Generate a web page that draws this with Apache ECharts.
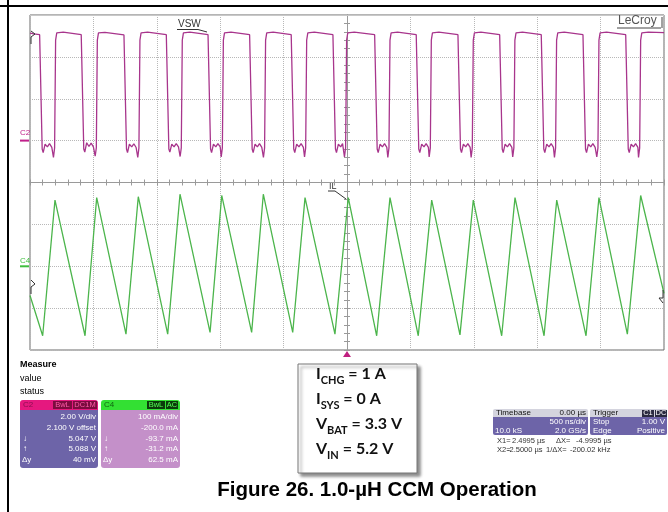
<!DOCTYPE html>
<html><head><meta charset="utf-8">
<script src="https://cdn.jsdelivr.net/npm/echarts@6/dist/echarts.min.js"></script>
<style>html,body{margin:0;padding:0;background:#fff}#c{width:668px;height:512px}</style>
</head><body><div id="c"></div>
<script>
// Time axis: 500 ns/div, 10 divisions, in microseconds
const timeMin = -2.5, timeMax = 2.5, timeStep = 0.5;
// C2 (VSW) axis in volts: 2 V/div, ground one division above centre
const vswMin = -10, vswMax = 6, vswStep = 2;
// C4 (IL) axis in mA: 100 mA/div, zero two divisions below centre
const ilMin = -200, ilMax = 600, ilStep = 100;

// VSW trace points [time µs, volts]
const vswPoints = [
  [-2.500,5.13],[-2.470,5.10],
  [-2.424,5.06],[-2.404,-0.40],[-2.396,-0.57],[-2.381,-0.17],[-2.363,-0.30],[-2.346,-0.14],[-2.328,-0.32],[-2.315,-0.80],[-2.306,-0.35],[-2.298,4.80],[-2.289,5.15],[-2.277,5.23],[-2.238,5.18],
  [-2.096,5.06],[-2.076,-0.40],[-2.068,-0.55],[-2.053,-0.10],[-2.035,-0.28],[-2.018,-0.12],[-2.000,-0.30],[-1.986,-0.74],[-1.977,-0.35],[-1.969,4.80],[-1.960,5.15],[-1.948,5.22],[-1.909,5.17],
  [-1.759,5.05],[-1.739,-0.40],[-1.731,-0.57],[-1.716,-0.17],[-1.698,-0.30],[-1.681,-0.15],[-1.663,-0.33],[-1.650,-0.80],[-1.641,-0.35],[-1.633,4.80],[-1.624,5.15],[-1.612,5.24],[-1.573,5.18],
  [-1.425,5.06],[-1.405,-0.40],[-1.397,-0.55],[-1.382,-0.17],[-1.364,-0.30],[-1.347,-0.14],[-1.329,-0.30],[-1.316,-0.76],[-1.307,-0.35],[-1.299,4.80],[-1.290,5.15],[-1.278,5.23],[-1.239,5.18],
  [-1.096,5.06],[-1.076,-0.40],[-1.068,-0.57],[-1.053,-0.17],[-1.035,-0.30],[-1.018,-0.14],[-1.000,-0.30],[-0.992,-0.78],[-0.983,-0.35],[-0.975,4.80],[-0.966,5.15],[-0.954,5.23],[-0.915,5.18],
  [-0.768,5.06],[-0.748,-0.40],[-0.740,-0.57],[-0.725,-0.17],[-0.707,-0.30],[-0.690,-0.14],[-0.672,-0.32],[-0.659,-0.80],[-0.650,-0.35],[-0.642,4.80],[-0.633,5.15],[-0.621,5.23],[-0.582,5.18],
  [-0.440,5.06],[-0.420,-0.40],[-0.412,-0.57],[-0.397,-0.17],[-0.379,-0.30],[-0.362,-0.14],[-0.344,-0.32],[-0.335,-0.78],[-0.326,-0.35],[-0.318,4.80],[-0.309,5.15],[-0.297,5.23],[-0.258,5.18],
  [-0.111,5.06],[-0.091,-0.40],[-0.083,-0.57],[-0.068,-0.17],[-0.050,-0.30],[-0.035,-0.14],[-0.020,-0.78],[-0.011,-0.35],[-0.003,4.80],[0.006,5.15],[0.018,5.23],[0.057,5.18],
  [0.218,5.06],[0.238,-0.40],[0.246,-0.57],[0.261,-0.17],[0.279,-0.30],[0.296,-0.14],[0.314,-0.32],[0.322,-0.80],[0.331,-0.35],[0.339,4.80],[0.348,5.15],[0.360,5.23],[0.399,5.18],
  [0.546,5.06],[0.566,-0.40],[0.574,-0.57],[0.589,-0.17],[0.607,-0.30],[0.624,-0.14],[0.642,-0.32],[0.648,-0.78],[0.657,-0.35],[0.665,4.80],[0.674,5.15],[0.686,5.23],[0.725,5.18],
  [0.875,5.06],[0.895,-0.40],[0.903,-0.57],[0.918,-0.17],[0.936,-0.30],[0.953,-0.14],[0.971,-0.32],[0.979,-0.80],[0.988,-0.35],[0.996,4.80],[1.005,5.15],[1.017,5.23],[1.056,5.18],
  [1.204,5.06],[1.224,-0.40],[1.232,-0.57],[1.247,-0.17],[1.265,-0.30],[1.282,-0.14],[1.300,-0.32],[1.307,-0.78],[1.316,-0.35],[1.324,4.80],[1.333,5.15],[1.345,5.23],[1.384,5.18],
  [1.532,5.06],[1.552,-0.40],[1.560,-0.57],[1.575,-0.17],[1.593,-0.30],[1.610,-0.14],[1.628,-0.32],[1.636,-0.80],[1.645,-0.35],[1.653,4.80],[1.662,5.15],[1.674,5.23],[1.713,5.18],
  [1.861,5.06],[1.881,-0.40],[1.889,-0.57],[1.904,-0.17],[1.922,-0.30],[1.939,-0.14],[1.957,-0.32],[1.970,-0.78],[1.979,-0.35],[1.987,4.80],[1.996,5.15],[2.008,5.23],[2.047,5.18],
  [2.198,5.06],[2.218,-0.40],[2.226,-0.57],[2.241,-0.17],[2.259,-0.30],[2.276,-0.14],[2.294,-0.32],[2.299,-0.80],[2.308,-0.35],[2.316,4.80],[2.325,5.15],[2.337,5.23],[2.376,5.18],
  [2.500,5.16]
];

// IL trace vertices [time µs, mA]
const ilPoints = [
  [-2.500,-70],[-2.400,-166],[-2.303,158],[-2.066,-166],[-1.974,164],[-1.743,-162],[-1.646,166],
  [-1.414,-162],[-1.317,172],[-1.080,-158],[-0.988,169],[-0.752,-158],[-0.660,172],[-0.428,-158],
  [-0.331,164],[-0.095,-162],[0.010,164],[0.234,-166],[0.339,164],[0.562,-166],[0.668,158],
  [0.891,-164],[0.996,158],[1.220,-166],[1.325,164],[1.554,-166],[1.654,158],[1.885,-166],
  [1.987,164],[2.211,-162],[2.316,169],[2.500,-65]
];

const c2Readout = ['2.00 V/div','2.100 V offset','5.047 V','5.088 V','40 mV'];
const c4Readout = ['100 mA/div','-200.0 mA','-93.7 mA','-31.2 mA','62.5 mA'];
const conditions = [['I','CHG',' = 1 A'],['I','SYS',' = 0 A'],['V','BAT',' = 3.3 V'],['V','IN',' = 5.2 V']];
const caption = 'Figure 26. 1.0-µH CCM Operation';

const F = 'Liberation Sans, Arial, sans-serif';
const els = [];
function txt(x,y,s,o){o=o||{};els.push({type:'text',x:x,y:y,z:o.z||10,style:{text:s,fill:o.fill||'#000',font:(o.w||'normal')+' '+(o.size||8)+'px '+(o.fam||F),textAlign:o.align||'left',textVerticalAlign:'middle'}});}
function rect(x,y,w,h,fill,o){o=o||{};els.push({type:'rect',z:o.z||5,shape:{x:x,y:y,width:w,height:h,r:o.r||0},style:Object.assign({fill:fill},o.style||{})});}
function line(x1,y1,x2,y2,c,w){els.push({type:'line',z:6,shape:{x1:x1,y1:y1,x2:x2,y2:y2},style:{stroke:c,lineWidth:w||1}});}
function poly(pts,c,fill){els.push({type:fill?'polygon':'polyline',z:7,shape:{points:pts},style:fill?{fill:c}:{stroke:c,lineWidth:1,fill:null}});}

// figure frame
line(0,6,668,6,'#000',2);
line(8,0,8,512,'#000',2);
line(30,15.5,664,15.5,'#c8c8c8',1);

// scope labels
txt(178,24,'VSW',{size:10,fill:'#333'});
line(177,29.5,198,29.5,'#333',1);
line(198,29.5,207,32,'#333',1);
txt(618,21,'LeCroy',{size:12,fill:'#555'});
line(617,28,661,28,'#444',1);
line(662,17,662,28,'#444',1);
txt(20,133,'C2',{size:8,fill:'#c0208a'});
line(20,140.6,29,140.6,'#c0208a',2);
txt(20,261,'C4',{size:8,fill:'#3fbf3f'});
line(20,266.3,29,266.3,'#3fbf3f',2);
txt(329,187,'IL',{size:9,fill:'#333'});
line(328,191,335,191,'#333',1);
line(335,191,346,199,'#333',1);
poly([[343,357],[351,357],[347,351]],'#c02080',true);
poly([[31,31],[35,34],[31,37],[31,44]],'#333');
poly([[31,280],[35,284],[31,287],[31,294]],'#333');
poly([[663,290],[663,298],[659,298],[663,303]],'#333');

// measure area
txt(20,365,'Measure',{size:9,w:'bold'});
txt(20,379,'value',{size:9});
txt(20,392,'status',{size:9});

// C2 panel
rect(20,410,78,58,'#6d64a8',{r:[0,0,3,3]});
rect(20,400,78,10,'#e5187f',{r:[3,3,0,0]});
txt(23,405,'C2',{fill:'#8a1050'});
rect(53,401,19,8,'#7c0c3f'); txt(62.5,405,'BwL',{fill:'#ff5aa8',align:'center',size:7.5});
rect(73,401,24,8,'#7c0c3f'); txt(85,405,'DC1M',{fill:'#ff5aa8',align:'center',size:7.5});
const rowY=[417,428,439,449,460];
c2Readout.forEach(function(s,i){txt(96,rowY[i],s,{fill:'#fff',align:'right'});});
txt(23,439,'↓',{fill:'#fff'}); txt(23,449,'↑',{fill:'#fff'}); txt(22,460,'Δy',{fill:'#fff'});

// C4 panel
rect(101,410,79,58,'#c490c9',{r:[0,0,3,3]});
rect(101,400,79,10,'#33e033',{r:[3,3,0,0]});
txt(104,405,'C4',{fill:'#116611'});
rect(147,401,18,8,'#0b3b0b'); txt(156,405,'BwL',{fill:'#55ff55',align:'center',size:7.5});
rect(166,401,12,8,'#0b3b0b'); txt(172,405,'AC',{fill:'#55ff55',align:'center',size:7.5});
c4Readout.forEach(function(s,i){txt(178,rowY[i],s,{fill:'#fff',align:'right'});});
txt(104,439,'↓',{fill:'#fff'}); txt(104,449,'↑',{fill:'#fff'}); txt(103,460,'Δy',{fill:'#fff'});

// condition box
rect(298,364,119,109,'#fff',{z:4,style:{stroke:'#777',lineWidth:1,shadowBlur:3,shadowOffsetX:3,shadowOffsetY:3,shadowColor:'rgba(0,0,0,0.45)'}});
const condY=[376,401,426,451];
conditions.forEach(function(c,i){
  els.push({type:'text',x:316,y:condY[i],z:10,style:{
    text:'{m|'+c[0]+'}{s|'+c[1]+'}{m|'+c[2]+'}',textVerticalAlign:'middle',
    rich:{m:{fontSize:16,fontWeight:'bold',fontFamily:'Lato, '+F,fill:'#111',verticalAlign:'bottom',padding:[0,0,4,0]},
          s:{fontSize:11,fontWeight:'bold',fontFamily:'Lato, '+F,fill:'#111',verticalAlign:'bottom'}}}});
});

// timebase / trigger
rect(493,417,95,18,'#6d64a8',{r:[0,0,2,2]});
rect(493,409,95,8,'#d4d4de',{r:[2,2,0,0]});
txt(496,413,'Timebase',{fill:'#111'}); txt(586,413,'0.00 µs',{fill:'#111',align:'right'});
txt(586,422,'500 ns/div',{fill:'#fff',align:'right'});
txt(495,431,'10.0 kS',{fill:'#fff'}); txt(586,431,'2.0 GS/s',{fill:'#fff',align:'right'});
rect(590,417,77,18,'#6d64a8',{r:[0,0,2,2]});
rect(590,409,77,8,'#d4d4de',{r:[2,2,0,0]});
txt(593,413,'Trigger',{fill:'#111'});
rect(642,410,12,7,'#2a2a40'); txt(648,413,'C1',{fill:'#fff',align:'center',size:7.5});
rect(655,410,12,7,'#2a2a40'); txt(661,413,'DC',{fill:'#fff',align:'center',size:7.5});
txt(593,422,'Stop',{fill:'#fff'}); txt(665,422,'1.00 V',{fill:'#fff',align:'right'});
txt(593,431,'Edge',{fill:'#fff'}); txt(665,431,'Positive',{fill:'#fff',align:'right'});
txt(497,441,'X1=',{fill:'#333',size:7.5}); txt(512,441,'2.4995 µs',{fill:'#333',size:7.5});
txt(556,441,'ΔX=',{fill:'#333',size:7.5}); txt(576,441,'-4.9995 µs',{fill:'#333',size:7.5});
txt(497,450,'X2=',{fill:'#333',size:7.5}); txt(507,450,'-2.5000 µs',{fill:'#333',size:7.5});
txt(546,450,'1/ΔX=',{fill:'#333',size:7.5}); txt(570,450,'-200.02 kHz',{fill:'#333',size:7.5});

// caption
txt(377,490,caption,{size:20.5,w:'bold',align:'center'});

const axisGray = '#9a9a9a';
const centerTick = {show:true,length:3,lineStyle:{color:axisGray}};
const chart = echarts.init(document.getElementById('c'),null,{renderer:'canvas'});
chart.setOption({
  animation:false,
  backgroundColor:'#fff',
  grid:{left:30,top:15,width:634,height:335,show:true,borderColor:'#6a6a6a',borderWidth:1},
  xAxis:[
    {type:'value',min:timeMin,max:timeMax,interval:timeStep,position:'bottom',
     axisLabel:{show:false},
     splitLine:{show:true,lineStyle:{type:'dotted',color:'#b8b8b8'}},
     axisLine:{show:true,onZero:true,onZeroAxisIndex:2,lineStyle:{color:axisGray}},
     axisTick:centerTick,minorTick:{show:true,splitNumber:5,length:3,lineStyle:{color:axisGray}}},
    {type:'value',min:timeMin,max:timeMax,interval:timeStep,position:'bottom',
     axisLabel:{show:false},splitLine:{show:false},
     axisLine:{show:true,onZero:true,onZeroAxisIndex:2,lineStyle:{color:axisGray}},
     axisTick:{show:true,inside:true,length:3,lineStyle:{color:axisGray}},
     minorTick:{show:true,splitNumber:5,length:3,lineStyle:{color:axisGray}}}
  ],
  yAxis:[
    {type:'value',min:vswMin,max:vswMax,interval:vswStep,show:false},
    {type:'value',min:ilMin,max:ilMax,interval:ilStep,show:false},
    {type:'value',min:-4,max:4,interval:1,position:'left',
     axisLabel:{show:false},
     splitLine:{show:true,lineStyle:{type:'dotted',color:'#b8b8b8'}},
     axisLine:{show:true,onZero:true,onZeroAxisIndex:0,lineStyle:{color:axisGray}},
     axisTick:centerTick,minorTick:{show:true,splitNumber:5,length:3,lineStyle:{color:axisGray}}},
    {type:'value',min:-4,max:4,interval:1,position:'left',
     axisLabel:{show:false},splitLine:{show:false},
     axisLine:{show:true,onZero:true,onZeroAxisIndex:0,lineStyle:{color:axisGray}},
     axisTick:{show:true,inside:true,length:3,lineStyle:{color:axisGray}},
     minorTick:{show:true,splitNumber:5,length:3,lineStyle:{color:axisGray}}}
  ],
  series:[
    {name:'VSW',type:'line',xAxisIndex:0,yAxisIndex:0,data:vswPoints,showSymbol:false,
     lineStyle:{color:'#a8358c',width:1.3},z:3},
    {name:'IL',type:'line',xAxisIndex:0,yAxisIndex:1,data:ilPoints,showSymbol:false,
     lineStyle:{color:'#4cb54c',width:1.3},z:3}
  ],
  graphic:{elements:els}
});
</script>
</body></html>
